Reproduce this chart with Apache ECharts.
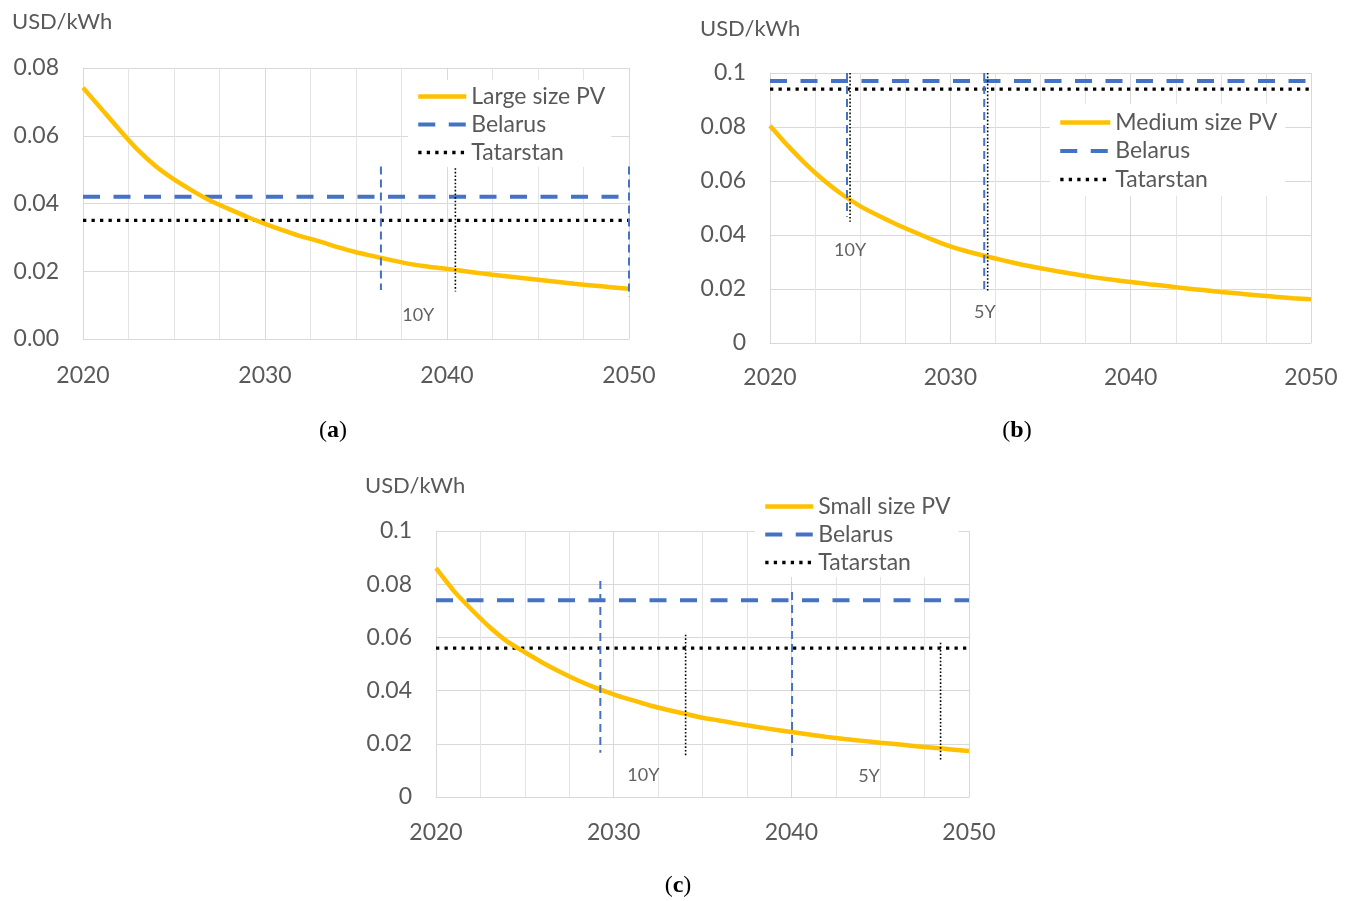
<!DOCTYPE html>
<html>
<head>
<meta charset="utf-8">
<script src="https://cdn.jsdelivr.net/npm/echarts@6/dist/echarts.min.js"></script>
<style>
html,body{margin:0;padding:0;background:#fff;}
#chart{width:1351px;height:901px;}
</style>
</head>
<body>
<div id="chart"></div>
<script>
// ---------- data ----------
const years = [2020,2021,2022,2023,2024,2025,2026,2027,2028,2029,2030,2031,2032,2033,2034,2035,
               2036,2037,2038,2039,2040,2041,2042,2043,2044,2045,2046,2047,2048,2049,2050];

const largePV  = [0.0742,0.0680,0.0618,0.0559,0.0510,0.0471,0.0438,0.0408,0.0384,0.0361,0.0340,0.0321,0.0303,0.0288,0.0271,0.0256,
                  0.0244,0.0232,0.0221,0.0213,0.0207,0.0200,0.0193,0.0187,0.0181,0.0175,0.0169,0.0163,0.0158,0.0153,0.0148];
const mediumPV = [0.0805,0.0730,0.0662,0.0602,0.0550,0.0507,0.0472,0.0440,0.0411,0.0383,0.0358,0.0338,0.0321,0.0305,0.0290,0.0277,
                  0.0265,0.0254,0.0243,0.0234,0.0226,0.0218,0.0211,0.0203,0.0196,0.0189,0.0183,0.0177,0.0171,0.0166,0.0162];
const smallPV  = [0.0860,0.0775,0.0705,0.0640,0.0585,0.0544,0.0505,0.0470,0.0438,0.0410,0.0386,0.0365,0.0345,0.0328,0.0313,0.0298,
                  0.0287,0.0275,0.0264,0.0254,0.0244,0.0235,0.0226,0.0218,0.0211,0.0204,0.0198,0.0191,0.0185,0.0179,0.0173];

const pvNames = ['Large size PV', 'Medium size PV', 'Small size PV'];
const belarusTariff   = [0.042, 0.097, 0.074];
const tatarstanTariff = [0.035, 0.094, 0.056];

// payback markers: [year, top value, bottom value]
const belarusPayback = [
  [[2036.37, 0.0509, 0.0145], [2050.0, 0.0509, 0.0125]],
  [[2024.27, 0.100, 0.0468], [2031.88, 0.100, 0.0196]],
  [[2029.25, 0.0812, 0.0166], [2040.04, 0.0771, 0.0141]]
];
const tatarstanPayback = [
  [[2040.46, 0.0504, 0.0140]],
  [[2024.44, 0.100, 0.0449], [2032.07, 0.100, 0.0188]],
  [[2034.05, 0.0610, 0.0154], [2048.40, 0.0580, 0.0133]]
];
// period labels: [text, year, value]
const periodLabels = [
  [['10Y', 2038.42, 0.0069], ['5Y', 2050.05, 0.0069]],
  [['10Y', 2024.44, 0.0342], ['5Y', 2031.92, 0.0114]],
  [['10Y', 2031.67, 0.0081], ['5Y', 2044.37, 0.0079]]
];
const yMax = [0.08, 0.1, 0.1];
const yDecimals = [2, -1, -1];
const captions = ['a', 'b', 'c'];

// ---------- layout ----------
const FONT = 'Lato';
const grids = [
  {left: 83,  top: 68,  width: 546, height: 271},
  {left: 770, top: 73,  width: 541, height: 270},
  {left: 436, top: 531, width: 533, height: 266}
];
const xLabelMargin = [25, 23, 24];
const legendPos = [
  {left: 408,  top: 80,  padding: [5, 6, 3, 8],  itemWidth: 48, itemGap: 5},
  {left: 1050, top: 104, padding: [7, 8, 5, 8],  itemWidth: 50, itemGap: 5.5},
  {left: 755,  top: 492, padding: [3, 8, 3, 8],  itemWidth: 48, itemGap: 5}
];
const unitPos = [[12, 22], [700, 29], [365, 486]];
const captionPos = [[333, 431], [1017, 431], [678, 886]];

const pvSets = [largePV, mediumPV, smallPV];
const GRID = '#d9d9d9';
const TEXT = '#595959';
const BLUE = '#4472C4';
const PV_STYLE  = {color: '#FFC000', width: 4.5};
const BEL_STYLE = {color: BLUE, width: 4, type: [17, 13.5]};
const TAT_STYLE = {color: '#000', width: 3.3, type: [3.3, 5.2]};

const xAxes = [], yAxes = [], series = [], legends = [], graphics = [];

for (let i = 0; i < 3; i++) {
  xAxes.push({
    type: 'value', gridIndex: i, min: 2020, max: 2050, interval: 10,
    axisLine: {show: true, lineStyle: {color: GRID, width: 1}},
    axisTick: {show: false},
    axisLabel: {fontSize: 23, color: TEXT, margin: xLabelMargin[i], fontFamily: FONT, formatter: v => String(v)},
    splitLine: {show: true, lineStyle: {color: GRID, width: 1}},
    minorTick: {show: false, splitNumber: 4},
    minorSplitLine: {show: true, lineStyle: {color: '#e4e4e4', width: 1}}
  });
  const dec = yDecimals[i];
  yAxes.push({
    type: 'value', gridIndex: i, min: 0, max: yMax[i], interval: 0.02,
    axisLine: {show: true, lineStyle: {color: GRID, width: 1}},
    axisTick: {show: false},
    axisLabel: {
      fontSize: 23, color: TEXT, margin: 24, fontFamily: FONT,
      formatter: v => dec >= 0 ? v.toFixed(dec) : String(parseFloat(v.toFixed(4)))
    },
    splitLine: {show: true, lineStyle: {color: GRID, width: 1}}
  });

  // tariff lines
  series.push({
    type: 'line', name: 'Belarus', xAxisIndex: i, yAxisIndex: i,
    data: [[2020, belarusTariff[i]], [2050, belarusTariff[i]]],
    symbol: 'none', silent: true, z: 2,
    itemStyle: {color: BLUE},
    lineStyle: BEL_STYLE
  });
  series.push({
    type: 'line', name: 'Tatarstan', xAxisIndex: i, yAxisIndex: i,
    data: [[2020, tatarstanTariff[i]], [2050, tatarstanTariff[i]]],
    symbol: 'none', silent: true, z: 2,
    itemStyle: {color: '#000'},
    lineStyle: TAT_STYLE
  });
  // PV cost curve
  series.push({
    type: 'line', name: pvNames[i], xAxisIndex: i, yAxisIndex: i,
    data: years.map((y, k) => [y, pvSets[i][k]]),
    symbol: 'none', silent: true, z: 3, smooth: 0.2,
    itemStyle: {color: '#FFC000'},
    lineStyle: PV_STYLE
  });
  // payback verticals
  belarusPayback[i].forEach(p => series.push({
    type: 'line', xAxisIndex: i, yAxisIndex: i,
    data: [[p[0], p[1]], [p[0], p[2]]],
    symbol: 'none', silent: true, z: 4,
    lineStyle: {color: BLUE, width: 2, type: [8, 5]}
  }));
  tatarstanPayback[i].forEach(p => series.push({
    type: 'line', xAxisIndex: i, yAxisIndex: i,
    data: [[p[0], p[1]], [p[0], p[2]]],
    symbol: 'none', silent: true, z: 4,
    lineStyle: {color: '#000', width: 1.6, type: [1.6, 2]}
  }));
  // period labels
  series.push({
    type: 'scatter', xAxisIndex: i, yAxisIndex: i, silent: true, z: 5,
    symbolSize: 1, itemStyle: {color: 'rgba(0,0,0,0)'},
    data: periodLabels[i].map(l => ({name: l[0], value: [l[1], l[2]]})),
    label: {show: true, position: 'inside', formatter: '{b}', fontSize: 18, color: '#3a3a3a', fontFamily: FONT}
  });

  const lp = legendPos[i];
  legends.push({
    orient: 'vertical', left: lp.left, top: lp.top, padding: lp.padding,
    itemWidth: lp.itemWidth, itemHeight: 14, itemGap: lp.itemGap,
    backgroundColor: '#ffffff', selectedMode: false, z: 10,
    itemStyle: {opacity: 0},
    textStyle: {fontSize: 23, color: TEXT, fontFamily: FONT, lineHeight: 22},
    data: [
      {name: pvNames[i], lineStyle: {width: PV_STYLE.width}},
      {name: 'Belarus', lineStyle: {width: BEL_STYLE.width}},
      {name: 'Tatarstan', lineStyle: {width: TAT_STYLE.width}}
    ]
  });

  graphics.push({
    type: 'text', x: unitPos[i][0], y: unitPos[i][1], silent: true,
    style: {text: 'USD/kWh', fill: TEXT, font: '22px ' + FONT, textAlign: 'left', textVerticalAlign: 'middle'}
  });
  graphics.push({
    type: 'text', x: captionPos[i][0], y: captionPos[i][1], silent: true,
    style: {
      text: '({b|' + captions[i] + '})', fill: '#000', font: '24px "Liberation Serif"',
      textAlign: 'center', textVerticalAlign: 'middle',
      rich: {b: {fontWeight: 'bold', fontSize: 24, fontFamily: 'Liberation Serif', fill: '#000'}}
    }
  });
}

const chart = echarts.init(document.getElementById('chart'), null, {renderer: 'canvas'});
chart.setOption({
  backgroundColor: '#ffffff',
  animation: false,
  grid: grids,
  xAxis: xAxes,
  yAxis: yAxes,
  legend: legends,
  series: series,
  graphic: graphics
});
</script>
</body>
</html>
